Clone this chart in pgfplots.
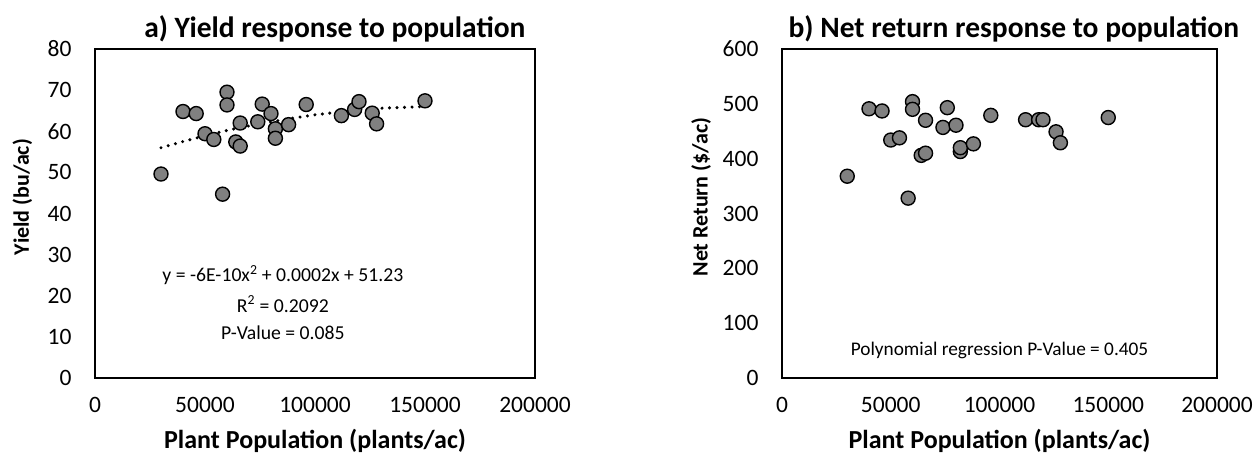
\documentclass[border=0pt]{standalone}
\usepackage{fontspec}
\setmainfont{Carlito}
\usepackage{pgfplots}
\usepackage{pgfplotstable}
\pgfplotsset{compat=1.18}
\definecolor{ptgray}{RGB}{128,128,128}

\pgfplotstableread{
x y
30000 49.6
40000 64.8
46000 64.3
50000 59.4
54000 58.0
58000 44.7
60000 69.5
60000 66.4
64000 57.4
66000 62.0
66000 56.4
74000 62.3
76000 66.6
80000 64.3
82000 60.6
82000 58.3
88000 61.6
96000 66.5
112000 63.8
118000 65.3
120000 67.2
126000 64.4
128000 61.8
150000 67.4
}\yieldtab

\pgfplotstableread{
x y
30000 56.0
40000 57.5
50000 58.9
60000 60.2
70000 61.3
80000 62.3
90000 63.2
100000 64.0
110000 64.6
120000 65.2
130000 65.6
140000 65.8
150000 66.0
}\trendtab

\pgfplotstableread{
x y
30000 368
40000 491
46000 487
50000 434
54000 438
58000 328
60000 504
60000 490
64000 406
66000 470
66000 410
74000 457
76000 493
80000 461
82000 413
82000 420
88000 427
96000 479
112000 471
118000 471
120000 471
126000 449
128000 429
150000 475
}\returntab

\pgfplotsset{
  myaxis/.style={
    scale only axis, height=329pt,
    axis line style={line width=1.6pt},
    major tick length=0pt, tick style={draw=none},
    xmin=0, xmax=200000, xtick={0,50000,100000,150000,200000},
    scaled x ticks=false, scaled y ticks=false,
    /pgf/number format/fixed, /pgf/number format/1000 sep={},
    /pgf/number format/assume math mode=true,
    tick label style={font=\fontsize{23.5}{27}\selectfont},
    xticklabel style={yshift=-16pt},
    yticklabel style={xshift=-20pt},
    xlabel style={font=\bfseries\fontsize{26}{30}\selectfont},
    ylabel style={font=\bfseries\fontsize{22}{26}\selectfont},
    xlabel={Plant Population (plants/ac)},
  },
  dotmark/.style={only marks, mark=*, mark size=7pt,
    mark options={fill=ptgray, draw=black, line width=1.4pt}},
}

\begin{document}
\begin{tikzpicture}[x=1pt,y=1pt]
\path[use as bounding box] (-95pt,-77pt) rectangle (1161pt,378pt);

\begin{axis}[myaxis, at={(0pt,0pt)}, anchor=south west, width=440pt,
  ymin=0, ymax=80, ytick={0,10,...,80},
  ylabel={Yield (bu/ac)},
  xlabel style={at={(axis description cs:0.5,-0.19)}, anchor=center},
  ylabel style={at={(axis description cs:-0.165,0.55)}, anchor=center},
  clip=false]
\addplot[dotmark] table[x=x,y=y] {\yieldtab};
\addplot[black, line width=3.4pt, line cap=round, dash pattern=on 0pt off 7.5pt] table[x=x,y=y] {\trendtab};
\node[font=\bfseries\fontsize{29.5}{34}\selectfont, anchor=center] at (axis description cs:0.545,1.061) {a) Yield response to population};
\node[font=\fontsize{19.7}{23}\selectfont, anchor=center] at (axis description cs:0.427,0.313) {y = -6E-10x\textsuperscript{2} + 0.0002x + 51.23};
\node[font=\fontsize{19.7}{23}\selectfont, anchor=center] at (axis description cs:0.427,0.225) {R\textsuperscript{2} = 0.2092};
\node[font=\fontsize{19.7}{23}\selectfont, anchor=center] at (axis description cs:0.427,0.137) {P-Value = 0.085};
\end{axis}

\begin{axis}[myaxis, at={(687pt,0pt)}, anchor=south west, width=435pt,
  ymin=0, ymax=600, ytick={0,100,...,600},
  ylabel={Net Return (\$/ac)},
  xlabel style={at={(axis description cs:0.5,-0.19)}, anchor=center},
  ylabel style={at={(axis description cs:-0.186,0.55)}, anchor=center},
  clip=false]
\addplot[dotmark] table[x=x,y=y] {\returntab};
\node[font=\bfseries\fontsize{29.5}{34}\selectfont, anchor=center] at (axis description cs:0.533,1.061) {b) Net return response to population};
\node[font=\fontsize{19.3}{23}\selectfont, anchor=center] at (axis description cs:0.5,0.085) {Polynomial regression P-Value = 0.405};
\end{axis}
\end{tikzpicture}
\end{document}
